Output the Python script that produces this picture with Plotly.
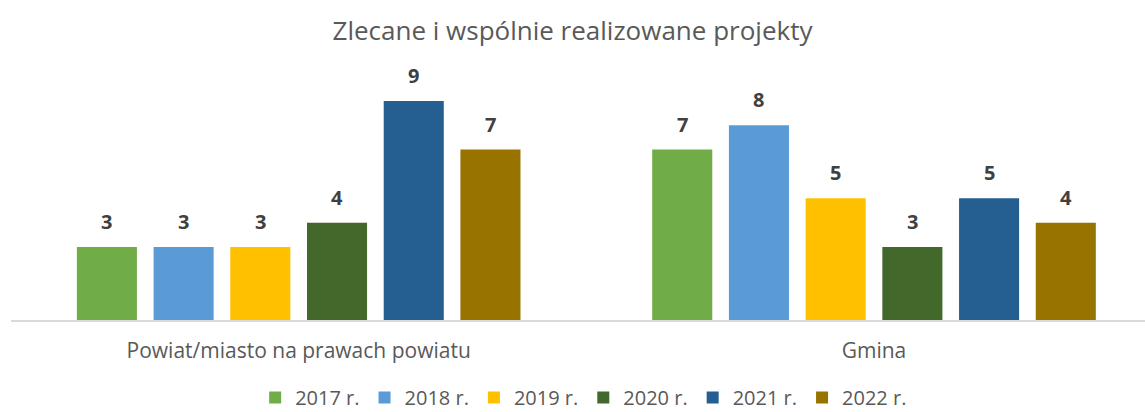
import plotly.graph_objects as go

categories = ["Powiat/miasto na prawach powiatu", "Gmina"]
years = ["2017 r.", "2018 r.", "2019 r.", "2020 r.", "2021 r.", "2022 r."]
values_2017 = [3, 7]
values_2018 = [3, 8]
values_2019 = [3, 5]
values_2020 = [4, 3]
values_2021 = [9, 5]
values_2022 = [7, 4]
colors = ["#70AD47", "#5B9BD5", "#FFC000", "#43682B", "#255E91", "#997300"]

series = [values_2017, values_2018, values_2019, values_2020, values_2021, values_2022]

FONT = "'Open Sans', sans-serif"
BARGAP = 0.2

fig = go.Figure()
for name, vals, col in zip(years, series, colors):
    fig.add_trace(go.Bar(
        x=categories, y=vals, name=name,
        marker=dict(color=col, line=dict(width=0)),
        cliponaxis=False,
    ))

# value labels above each bar, centred on its slot within the group
n = len(series)
slot = (1 - BARGAP) / n
for i, vals in enumerate(series):
    for c, v in enumerate(vals):
        fig.add_annotation(
            x=c + (i - (n - 1) / 2) * slot, y=v, xref="x", yref="y",
            text=f"<b>{v}</b>", showarrow=False, yanchor="bottom", yshift=10,
            font=dict(family=FONT, size=20, color="#404040"),
        )

fig.update_layout(
    width=1145, height=412,
    paper_bgcolor="white", plot_bgcolor="white",
    margin=dict(l=11, r=0, t=80, b=92, autoexpand=False),
    barmode="group", bargap=BARGAP, bargroupgap=0.217,
    title=dict(text="Zlecane i wspólnie realizowane projekty", x=0.5, xanchor="center",
               y=0.925, yanchor="middle",
               font=dict(family=FONT, size=26, color="#595959")),
    font=dict(family=FONT, color="#595959"),
    legend=dict(orientation="h", x=0.505, xanchor="center",
                yref="container", y=0.035, yanchor="middle",
                font=dict(family=FONT, size=20, color="#595959"),
                itemwidth=30, tracegroupgap=0),
    xaxis=dict(range=[-0.5, 1.471], showline=True, linecolor="#D9D9D9", linewidth=1.5,
               ticks="", ticklabelstandoff=11, automargin=False,
               tickfont=dict(family=FONT, size=21, color="#595959"),
               showgrid=False, zeroline=False),
    yaxis=dict(range=[0, 9.86], visible=False, showgrid=False, zeroline=False),
)

fig.write_html("out.html")
